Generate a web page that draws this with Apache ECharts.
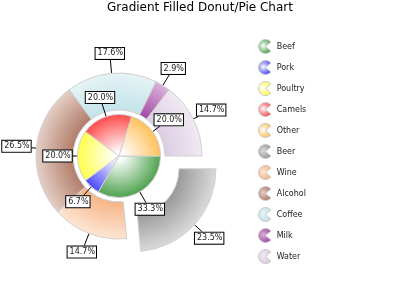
<!DOCTYPE html>
<html>
<head>
<meta charset="utf-8">
<script src="https://cdn.jsdelivr.net/npm/echarts@6/dist/echarts.min.js"></script>
<style>html,body{margin:0;padding:0;background:#fff}#c{width:400px;height:300px}</style>
</head>
<body>
<div id="c"></div>
<script>
// ---- data ----
const innerNames = ['Beef', 'Pork', 'Poultry', 'Camels', 'Other'];
const innerValues = [33.3, 6.7, 20.0, 20.0, 20.0];
const outerNames = ['Beer', 'Wine', 'Alcohol', 'Coffee', 'Milk', 'Water'];
const outerValues = [23.5, 14.7, 26.5, 17.6, 2.9, 14.7];
const explodedOuter = ['Beer'];

// ---- styles ----
const innerColors = ['#4ea24e', '#4a4aff', '#ffff4c', '#ff4c4c', '#ffc15c'];
const outerInnerCols = ['#9a9a9a', '#f5b587', '#b27d6a', '#c2e4e9', '#a448a4', '#dccde2'];
const outerOuterCols = ['#dadada', '#fde6d4', '#e4cec5', '#e6f3f5', '#dab4da', '#f1e9f3'];

const chart = echarts.init(document.getElementById('c'), null, {renderer: 'canvas'});
const W = chart.getWidth(), H = chart.getHeight();
const CX = 0.2975, CY = 0.52;
const cxPx = CX * W, cyPx = CY * H;
const R_IN = 41.5, R0_OUT = 46, R_OUT = 83;
const SEL_OFF = 19;
const FONT = 'DejaVu Sans';

function innerGrad(c) {
  return {type: 'radial', x: cxPx, y: cyPx, r: R_IN, global: true,
    colorStops: [{offset: 0, color: '#ffffff'}, {offset: 0.08, color: '#ffffff'}, {offset: 1, color: c}]};
}
function outerGrad(a, b) {
  return {type: 'radial', x: cxPx, y: cyPx, r: R_OUT, global: true,
    colorStops: [{offset: 0, color: a}, {offset: R0_OUT / R_OUT, color: a}, {offset: 1, color: b}]};
}
function iconGrad(a, b) {
  return {type: 'radial', x: 0.4, y: 0.45, r: 0.6,
    colorStops: [{offset: 0, color: a}, {offset: 1, color: b}]};
}

const innerData = innerNames.map((n, i) => ({name: n, value: innerValues[i],
  itemStyle: {color: innerGrad(innerColors[i])}}));
const outerData = outerNames.map((n, i) => ({name: n, value: outerValues[i],
  selected: explodedOuter.indexOf(n) >= 0,
  itemStyle: {color: outerGrad(outerInnerCols[i], outerOuterCols[i])}}));

const legendData = innerNames.map((n, i) => ({name: n, itemStyle: {color: iconGrad('#ffffff', innerColors[i]), borderColor: '#c8c8c8', borderWidth: 1}}))
  .concat(outerNames.map((n, i) => ({name: n, itemStyle: {color: iconGrad(outerOuterCols[i], outerInnerCols[i]), borderColor: '#c8c8c8', borderWidth: 1}})));

function makeLayout(isOuter) {
  return function (params) {
    const pts = params.labelLinePoints;
    if (!pts) return {};
    const p0 = pts[0], p1 = pts[1];
    let dx = p1[0] - p0[0], dy = p1[1] - p0[1];
    const len = Math.hypot(dx, dy) || 1;
    dx /= len; dy /= len;
    const w = params.labelRect.width, h = params.labelRect.height;
    const tx = Math.abs(dx) > 1e-6 ? w / 2 / Math.abs(dx) : Infinity;
    const ty = Math.abs(dy) > 1e-6 ? h / 2 / Math.abs(dy) : Infinity;
    const t = Math.min(tx, ty);
    const e = [p1[0] - dx * t, p1[1] - dy * t];
    let off = 0;
    if (isOuter && outerData[params.dataIndex] && outerData[params.dataIndex].selected) off = SEL_OFF;
    return {x: p1[0] + dx * off, y: p1[1] + dy * off, align: 'center', verticalAlign: 'middle',
      labelLinePoints: [p0, e, e]};
  };
}

const labelStyle = {
  show: true, position: 'outside', formatter: p => p.value.toFixed(1) + '%',
  fontFamily: FONT, fontSize: 8, color: '#222', lineHeight: 9,
  backgroundColor: '#ffffff', borderColor: '#000', borderWidth: 1, padding: [1, 1, 1, 2],
  distanceToLabelLine: 0
};

const option = {
  animation: false,
  title: {text: 'Gradient Filled Donut/Pie Chart', left: 'center', top: 2, padding: 0,
    textStyle: {fontFamily: FONT, fontSize: 12, fontWeight: 'normal', color: '#000'}},
  legend: {
    orient: 'vertical', left: 258, top: 39, padding: 0, itemWidth: 14, itemHeight: 14, itemGap: 6,
    icon: 'path://M50,50 L88.3,17.9 A50,50 0 1,0 88.3,82.1 Z',
    textStyle: {fontFamily: FONT, fontSize: 8, color: '#222'},
    data: legendData, selectedMode: false
  },
  series: [
    {
      type: 'pie', name: 'inner', center: [(CX * 100) + '%', (CY * 100) + '%'], radius: [0, R_IN],
      startAngle: 0, clockwise: true, avoidLabelOverlap: false, silent: true,
      itemStyle: {borderColor: '#d0d0d0', borderWidth: 1},
      label: labelStyle,
      labelLine: {show: true, length: 20, length2: 0, lineStyle: {color: '#000', width: 1}},
      labelLayout: makeLayout(false),
      data: innerData, z: 3
    },
    {
      type: 'pie', name: 'outer', center: [(CX * 100) + '%', (CY * 100) + '%'], radius: [R0_OUT, R_OUT],
      startAngle: 0, clockwise: true, avoidLabelOverlap: false,
      selectedMode: 'single', selectedOffset: SEL_OFF,
      itemStyle: {borderColor: '#cfcfcf', borderWidth: 1},
      label: labelStyle,
      labelLine: {show: true, length: 20, length2: 0, lineStyle: {color: '#000', width: 1}},
      labelLayout: makeLayout(true),
      select: {itemStyle: {borderColor: '#cfcfcf', borderWidth: 1}},
      emphasis: {disabled: true},
      data: outerData, z: 2
    }
  ]
};
chart.setOption(option);
</script>
</body>
</html>
